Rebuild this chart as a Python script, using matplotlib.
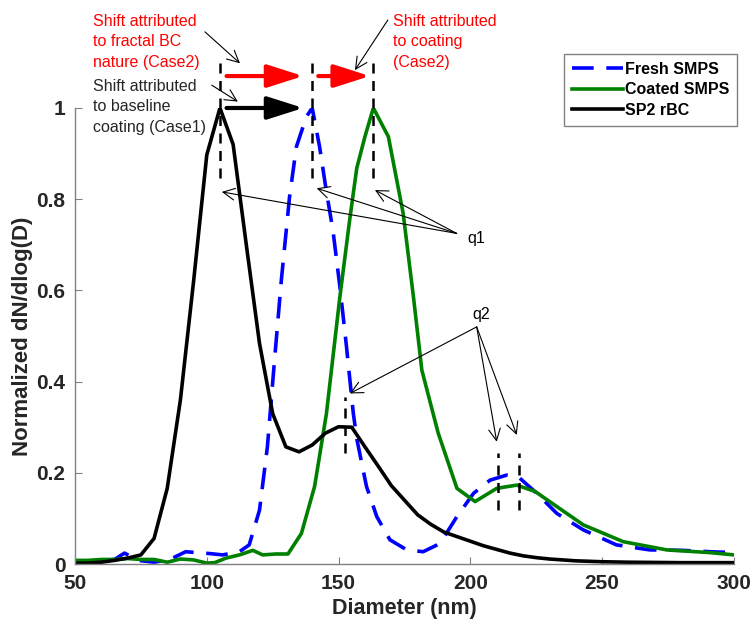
import numpy as np
import matplotlib.pyplot as plt

plt.rcParams['font.family'] = ['Liberation Sans', 'DejaVu Sans']

# Fresh SMPS (blue dashed)
fresh_d = [50, 55, 60, 65, 68.8, 73.8, 80, 86, 92, 96.3, 101, 106, 112.4, 116.1,
           120, 123, 125.6, 128.3, 131.4, 134, 137.8, 140, 142.8, 145.3,
           147.9, 150.5, 153, 155.6, 157, 160.6, 164.5, 169.5, 175.9, 182.1,
           188.5, 194.9, 201.2, 207.5, 213.8, 218.8, 225.2, 232.8, 242.8, 255.4,
           268, 280.4, 291, 300]
fresh_n = [0.005, 0.006, 0.008, 0.01, 0.024, 0.008, 0.004, 0.01, 0.027, 0.025,
           0.023, 0.02, 0.027, 0.042, 0.118, 0.257, 0.44, 0.623, 0.805, 0.915,
           0.981, 1.0, 0.915, 0.82, 0.73, 0.608, 0.477, 0.33, 0.272, 0.17,
           0.104, 0.053, 0.031, 0.027, 0.045, 0.104, 0.155, 0.184, 0.195, 0.188,
           0.155, 0.111, 0.075, 0.042, 0.031, 0.03, 0.027, 0.025]

# Coated SMPS (green)
coated_d = [50, 55, 60, 65, 70, 75, 80, 85, 90, 95, 100, 103, 107.3, 112.4, 117.5,
            121.2, 126.3, 130.8, 135.9, 140.9, 145.4, 150.5, 154.2, 156.9, 160,
            163.2, 168.9, 174.5, 178.4, 181.6, 187.8, 194.9, 201.8, 210, 217.6,
            224.6, 232.8, 242.8, 258, 274.5, 291, 300]
coated_n = [0.008, 0.008, 0.01, 0.01, 0.012, 0.01, 0.01, 0.004, 0.011, 0.009,
            0.002, 0.003, 0.013, 0.02, 0.03, 0.02, 0.022, 0.022, 0.067, 0.17,
            0.33, 0.586, 0.754, 0.868, 0.937, 1.0, 0.937, 0.769, 0.586, 0.425,
            0.287, 0.166, 0.137, 0.166, 0.173, 0.159, 0.126, 0.086, 0.049, 0.031,
            0.025, 0.02]

# SP2 rBC (black)
rbc_d = [50, 55, 60, 65, 70, 75, 80, 85, 90, 95, 100, 105, 110, 115, 120, 125,
         130, 135, 140, 145, 150, 155, 160, 165, 170, 175, 180, 185, 190, 195,
         200, 205, 210, 215, 220, 225, 230, 240, 250, 260, 280, 300]
rbc_n = [0.002, 0.002, 0.004, 0.008, 0.013, 0.02, 0.056, 0.166, 0.36, 0.62,
         0.897, 1.0, 0.92, 0.70, 0.484, 0.33, 0.257, 0.246, 0.261, 0.287, 0.301,
         0.30, 0.257, 0.215, 0.172, 0.14, 0.108, 0.087, 0.07, 0.06, 0.05, 0.04,
         0.032, 0.024, 0.018, 0.014, 0.011, 0.007, 0.005, 0.004, 0.003, 0.003]

peak_d = [105, 139.8, 163.2]
q2_d = [152.4, 210.6, 218.5]

fig = plt.figure(figsize=(7.52, 6.26), dpi=100)
ax = fig.add_axes([0.0997, 0.099, 0.8763, 0.7285])

ax.plot(fresh_d, fresh_n, color='#0000ff', lw=2.6, dashes=(6, 3.5), label='Fresh SMPS')
ax.plot(coated_d, coated_n, color='#008000', lw=2.6, label='Coated SMPS')
ax.plot(rbc_d, rbc_n, color='black', lw=2.6, label='SP2 rBC')

# peak marker lines
for d in peak_d:
    ax.plot([d, d], [0.846, 1.099], color='black', lw=1.8, dashes=(4, 3), clip_on=False)
ax.plot([q2_d[0]] * 2, [0.243, 0.367], color='black', lw=1.8, dashes=(4, 3))
for d in q2_d[1:]:
    ax.plot([d, d], [0.118, 0.243], color='black', lw=1.8, dashes=(4, 3))

ax.set_xlim(50, 300)
ax.set_ylim(0, 1)
ax.set_xticks([50, 100, 150, 200, 250, 300])
ax.set_yticks([0, 0.2, 0.4, 0.6, 0.8, 1])
ax.set_yticklabels(['0', '0.2', '0.4', '0.6', '0.8', '1'])
for s in ['top', 'right']:
    ax.spines[s].set_visible(False)
for s in ['left', 'bottom']:
    ax.spines[s].set_color('#808080')
    ax.spines[s].set_linewidth(1.0)
ax.tick_params(direction='in', length=5, color='#808080', labelsize=15, pad=7)
for lab in ax.get_xticklabels() + ax.get_yticklabels():
    lab.set_fontweight('bold')
    lab.set_color('#262626')
ax.set_xlabel('Diameter (nm)', fontsize=15.5, fontweight='bold', color='#262626', labelpad=4)
ax.set_ylabel('Normalized dN/dlog(D)', fontsize=16, fontweight='bold', color='#262626', labelpad=2)

# shift arrows
red_kw = dict(arrowstyle='-|>,head_length=1.1,head_width=0.35', color='red',
              lw=3, mutation_scale=20, shrinkA=0, shrinkB=0)
ax.annotate('', xy=(136.6, 1.07), xytext=(107.5, 1.07), arrowprops=red_kw, annotation_clip=False)
ax.annotate('', xy=(161.9, 1.07), xytext=(142.3, 1.07), arrowprops=red_kw, annotation_clip=False)
blk_kw = dict(red_kw, color='black')
ax.annotate('', xy=(136.6, 1.0), xytext=(107.5, 1.0), arrowprops=blk_kw, annotation_clip=False)

thin_kw = dict(arrowstyle='->,head_length=0.6,head_width=0.3', color='black', lw=0.8,
               mutation_scale=14, shrinkA=0, shrinkB=0)
ax.text(56.8, 1.206, 'Shift attributed\nto fractal BC\nnature (Case2)', color='red',
        fontsize=11.5, va='top', ha='left', linespacing=1.45)
ax.annotate('', xy=(112.6, 1.098), xytext=(99.3, 1.167), arrowprops=thin_kw, annotation_clip=False)
ax.text(170.6, 1.206, 'Shift attributed\nto coating\n(Case2)', color='red',
        fontsize=11.5, va='top', ha='left', linespacing=1.45)
ax.annotate('', xy=(156.2, 1.083), xytext=(168.7, 1.193), arrowprops=thin_kw, annotation_clip=False)
ax.text(56.8, 1.064, 'Shift attributed\nto baseline\ncoating (Case1)', color='#262626',
        fontsize=11.5, va='top', ha='left', linespacing=1.45)
ax.annotate('', xy=(111.8, 1.014), xytext=(101.9, 1.05), arrowprops=thin_kw, annotation_clip=False)

ax.text(202.1, 0.713, 'q1', fontsize=11.5, ha='center', va='center')
for tx, ty in [(163.8, 0.82), (141.7, 0.824), (105.7, 0.816)]:
    ax.annotate('', xy=(tx, ty), xytext=(194.8, 0.725), arrowprops=thin_kw)
ax.text(204, 0.548, 'q2', fontsize=11.5, ha='center', va='center')
for tx, ty in [(154.3, 0.374), (210, 0.268), (217.6, 0.283)]:
    ax.annotate('', xy=(tx, ty), xytext=(202.4, 0.52), arrowprops=thin_kw)

leg = ax.legend(loc='upper right', bbox_to_anchor=(0.98, 0.914), bbox_transform=fig.transFigure,
                fancybox=False, edgecolor='#606060', handlelength=3.2, handletextpad=0.1,
                borderpad=0.5, labelspacing=0.35, borderaxespad=0,
                prop={'weight': 'bold', 'size': 11.5})
leg.get_frame().set_linewidth(1.0)

fig.savefig('out.png', dpi=100)
